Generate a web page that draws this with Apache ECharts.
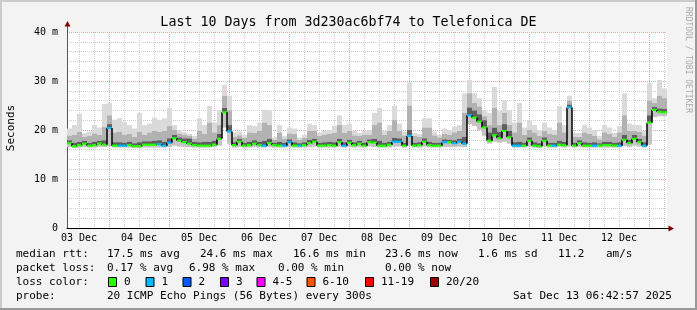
<!DOCTYPE html>
<html><head><meta charset="utf-8">
<script src="https://cdn.jsdelivr.net/npm/echarts@6/dist/echarts.min.js"></script>
<style>html,body{margin:0;padding:0;background:#f3f3f3}#c{width:697px;height:310px}</style>
</head><body><div id="c"></div>
<script>
// ---------- data ----------
const titleText = 'Last 10 Days from 3d230ac6bf74 to Telefonica DE';
const dayLabels = ['03 Dec','04 Dec','05 Dec','06 Dec','07 Dec','08 Dec','09 Dec','10 Dec','11 Dec','12 Dec'];
const yTickLabels = ['0','10 m','20 m','30 m','40 m'];
// 2-hour steps starting 03 Dec 07:12 (value axis in days since 03 Dec 00:00)
const startDay = 0.3;
const stepDay = 1/12;
const medianMs = [
 17.3,16.7,16.9,17.2,16.8,16.9,17.2,17.0,20.4,16.8,16.8,16.8,16.9,16.7,16.7,17.0,17.0,17.0,17.1,16.8,
 17.4,18.3,17.8,17.5,17.2,16.9,16.8,16.8,16.8,17.0,18.2,23.6,19.7,16.9,17.6,16.8,16.9,17.2,16.9,16.8,
 17.3,16.9,16.8,16.8,17.5,16.8,16.8,16.9,17.3,17.6,16.8,16.8,16.9,16.8,17.5,16.8,17.4,16.9,17.2,16.8,
 17.5,17.4,16.8,16.8,17.0,17.6,17.6,16.8,18.8,16.8,16.9,17.6,16.9,16.8,16.8,17.5,17.5,17.3,17.6,17.2,
 23.0,22.5,21.7,20.5,17.8,18.9,18.3,19.8,18.5,16.8,16.8,16.8,17.8,16.8,16.7,17.8,16.8,16.8,17.0,16.9,
 24.6,16.8,17.3,16.8,16.8,16.8,16.8,16.9,16.9,16.8,16.8,18.0,17.3,18.2,17.5,16.8,21.5,24.1,23.7,23.6];
const lostPings = [
 0,0,0,0,0,0,0,0,1,0,1,1,0,0,0,0,0,0,1,1,
 1,0,0,0,0,0,0,0,0,0,0,0,1,0,0,0,0,0,0,1,
 0,0,0,1,1,0,1,0,0,0,0,0,0,0,0,1,0,0,0,0,
 0,0,0,0,0,1,1,0,1,0,0,0,0,0,0,1,0,1,1,1,
 1,0,0,0,0,0,0,0,0,1,1,0,0,0,0,0,0,1,0,0,
 1,0,0,0,0,1,0,0,0,0,1,0,0,0,0,1,0,0,0,0];
const minMs = [
 16.5,16.3,16.4,16.5,16.4,16.4,16.5,16.5,16.6,16.4,16.4,16.4,16.4,16.3,16.3,16.4,16.4,16.4,16.4,16.4,
 16.5,16.8,16.6,16.5,16.5,16.4,16.4,16.4,16.4,16.5,16.8,20.5,17.2,16.4,16.5,16.4,16.4,16.5,16.4,16.4,
 16.5,16.4,16.4,16.4,16.5,16.4,16.4,16.4,16.5,16.6,16.4,16.4,16.4,16.4,16.5,16.4,16.5,16.4,16.5,16.4,
 16.6,16.5,16.4,16.4,16.4,16.6,16.6,16.4,16.8,16.4,16.4,16.6,16.4,16.4,16.4,16.5,16.5,16.5,16.6,16.5,
 21.2,20.8,20.0,18.8,17.2,17.6,17.4,17.6,17.2,16.4,16.4,16.4,16.6,16.4,16.3,16.6,16.4,16.4,16.5,16.4,
 16.6,16.4,16.5,16.4,16.4,16.4,16.4,16.4,16.4,16.4,16.4,16.7,16.5,16.8,16.6,16.4,17.0,22.6,22.8,22.8];
const darkTopMs = [
 17.9,17.4,17.6,17.8,17.4,17.6,17.8,17.9,21.2,17.5,17.5,17.4,17.6,17.3,17.5,17.7,17.7,17.8,17.9,17.6,
 18.3,19.0,18.5,18.3,18.3,17.6,17.5,17.6,17.6,17.8,19.2,24.5,21.0,17.5,18.2,17.4,17.6,17.9,17.6,17.8,
 18.2,17.4,17.6,17.4,18.1,17.5,17.3,17.5,18.0,18.2,17.4,17.5,17.6,17.5,18.2,17.5,18.0,17.5,17.8,17.4,
 18.1,18.2,17.8,17.4,17.6,18.4,18.3,17.4,20.0,17.4,17.5,18.3,17.6,17.4,17.4,18.1,18.0,17.9,18.2,18.6,
 24.6,24.0,23.2,22.0,19.5,20.5,19.6,21.2,19.8,17.5,17.6,17.4,18.5,17.5,17.3,18.5,17.4,17.4,17.8,17.6,
 25.2,17.4,17.9,17.5,17.4,17.5,17.3,17.6,17.6,17.4,17.5,19.0,18.0,19.0,18.2,17.5,23.0,24.7,24.4,24.3];
const midTopMs = [
 18.8,19.0,19.6,18.6,18.8,19.3,19.0,20.6,23.0,19.5,19.6,19.0,19.2,18.6,19.6,19.0,19.5,19.8,19.6,19.8,
 20.8,20.0,19.3,19.0,18.8,18.2,19.8,19.2,21.5,19.5,21.0,27.0,24.0,18.6,18.9,18.4,19.5,19.4,19.8,21.5,
 21.0,18.0,19.5,18.2,19.3,19.2,18.0,18.4,19.8,19.8,18.8,19.0,19.2,19.4,21.0,19.4,19.8,18.9,18.8,19.0,
 19.0,21.0,21.5,19.0,19.8,22.0,19.8,18.9,25.0,18.8,18.6,20.5,20.5,18.9,18.5,19.2,19.0,19.5,19.8,23.5,
 27.5,25.5,24.8,22.8,21.0,24.5,21.0,23.5,21.0,19.5,21.5,19.0,20.0,19.5,18.8,19.8,19.2,19.0,21.5,19.5,
 26.0,18.6,18.6,19.5,19.2,18.8,18.1,19.5,19.2,18.6,19.5,23.0,19.8,19.8,19.6,18.8,26.0,25.5,27.0,26.5];
const maxMs = [
 20.3,21.0,23.3,19.4,19.7,21.0,20.5,25.3,25.5,22.1,22.4,21.7,21.0,20.3,23.5,21.0,21.3,22.5,22.1,22.4,
 24.5,21.0,20.0,19.6,19.2,18.8,22.4,21.0,24.9,21.5,24.0,29.2,27.0,19.5,19.7,19.0,21.0,20.8,21.5,24.1,
 24.0,18.5,21.0,18.8,20.5,20.3,18.5,19.0,21.3,21.0,19.5,19.8,20.0,20.9,23.0,21.0,21.3,19.8,19.4,19.8,
 20.0,23.5,24.5,19.8,21.0,25.0,21.3,19.7,29.7,19.4,19.2,22.4,22.4,19.7,19.0,20.3,20.0,20.7,21.0,27.5,
 30.2,27.5,26.5,24.0,23.5,28.8,24.0,26.1,24.0,21.5,25.5,20.5,22.0,21.0,20.0,21.5,20.5,20.0,24.9,21.0,
 27.0,19.4,19.4,21.0,20.5,20.0,18.8,21.0,20.5,19.4,20.8,27.5,21.3,21.0,21.0,19.8,29.6,26.5,30.2,28.5];
const lossClassLabels = ['0','1','2','3','4-5','6-10','11-19','20/20'];
const lossClassColors = ['#26ff00','#00b8ff','#0059ff','#7e00ff','#ff00ff','#ff5500','#ff0000','#a10000'];
const lossClassUpper  = [0,1,2,3,5,10,19,20];
const statsRtt  = ['17.5 ms avg','24.6 ms max','16.6 ms min','23.6 ms now','1.6 ms sd','11.2','am/s'];
const statsLoss = ['0.17 % avg','6.98 % max','0.00 % min','0.00 % now'];
const probeText = '20 ICMP Echo Pings (56 Bytes) every 300s';
const dateText  = 'Sat Dec 13 06:42:57 2025';

// ---------- build ----------
const MONO = '"DejaVu Sans Mono", monospace';
function lossClass(n){ for (let k=0;k<lossClassUpper.length;k++) if (n<=lossClassUpper[k]) return k; return 7; }
const smokeData = medianMs.map((m,i)=>[startDay+i*stepDay, startDay+(i+1)*stepDay, minMs[i], m, darkTopMs[i], midTopMs[i], maxMs[i]]);
const medData = medianMs.map((m,i)=>[startDay+i*stepDay, startDay+(i+1)*stepDay, m, lostPings[i], i>0?medianMs[i-1]:m]);

function renderSmoke(params, api){
  const t0=api.value(0), t1=api.value(1);
  const x0=api.coord([t0,0])[0], x1=api.coord([t1,0])[0];
  const band=(a,b,c)=>{const ya=api.coord([t0,a])[1], yb=api.coord([t0,b])[1];
    return {type:'rect', shape:{x:x0,y:yb,width:x1-x0,height:Math.max(0,ya-yb)}, style:{fill:c}};};
  const lo=api.value(2), med=api.value(3), d=api.value(4), m=api.value(5), hi=api.value(6);
  return {type:'group', children:[band(m,hi,'#dadada'), band(d,m,'#b2b2b2'), band(med,d,'#5e5e5e'), band(lo,med,'#c4c4c4')]};
}
function renderMedian(params, api){
  const t0=api.value(0), t1=api.value(1), med=api.value(2), loss=api.value(3), prev=api.value(4);
  const p0=api.coord([t0,med]), p1=api.coord([t1,med]);
  const ch=[];
  if (prev!==med){ const pp=api.coord([t0,prev]);
    ch.push({type:'line', shape:{x1:p0[0],y1:pp[1],x2:p0[0],y2:p0[1]}, style:{stroke:'#000',lineWidth:1.5}}); }
  ch.push({type:'line', shape:{x1:p0[0],y1:p0[1],x2:p1[0],y2:p1[1]}, style:{stroke:lossClassColors[lossClass(loss)],lineWidth:2.2}});
  return {type:'group', children:ch};
}

const G = {left:67, top:32, width:600, height:196};
const txt=(x,y,t,extra)=>Object.assign({type:'text', x:x, y:y, silent:true, style:{text:t, font:'11px '+MONO, fill:'#000', align:'left', verticalAlign:'middle'}}, extra||{});
const graphics = [
  {type:'rect', shape:{x:0,y:0,width:697,height:2}, style:{fill:'#cbcbcb'}},
  {type:'rect', shape:{x:0,y:0,width:2,height:310}, style:{fill:'#cbcbcb'}},
  {type:'rect', shape:{x:0,y:308,width:697,height:2}, style:{fill:'#999'}},
  {type:'rect', shape:{x:695,y:0,width:2,height:310}, style:{fill:'#999'}},
  {type:'text', x:11, y:128, rotation:Math.PI/2, style:{text:'Seconds', font:'11px '+MONO, fill:'#000', align:'center', verticalAlign:'middle'}},
  {type:'text', x:688, y:60, rotation:-Math.PI/2, style:{text:'RRDTOOL / TOBI OETIKER', font:'8px '+MONO, fill:'#aaa', align:'center', verticalAlign:'middle'}},
  // axis arrows
  {type:'line', shape:{x1:67.5,y1:32,x2:67.5,y2:26}, style:{stroke:'#555',lineWidth:1}},
  {type:'polygon', shape:{points:[[64.5,26.5],[70.5,26.5],[67.5,21]]}, style:{fill:'#800000'}},
  {type:'line', shape:{x1:667,y1:228.5,x2:669,y2:228.5}, style:{stroke:'#000',lineWidth:1}},
  {type:'polygon', shape:{points:[[668.5,225.5],[668.5,231.5],[674,228.5]]}, style:{fill:'#800000'}},
  txt(16,254,'median rtt:'), txt(107,254,statsRtt[0]), txt(200,254,statsRtt[1]), txt(293,254,statsRtt[2]),
  txt(385,254,statsRtt[3]), txt(478,254,statsRtt[4]), txt(558,254,statsRtt[5]), txt(606,254,statsRtt[6]),
  txt(16,268,'packet loss:'), txt(107,268,statsLoss[0]), txt(189,268,statsLoss[1]), txt(278,268,statsLoss[2]), txt(385,268,statsLoss[3]),
  txt(16,282,'loss color:'),
  txt(16,296,'probe:'), txt(107,296,probeText), txt(513,296,dateText)
];
const boxX = [108,145.5,182.5,220,256.5,306.5,365,430];
lossClassLabels.forEach((lab,k)=>{
  graphics.push({type:'rect', shape:{x:boxX[k]+0.5,y:277.5,width:8,height:9}, style:{fill:lossClassColors[k], stroke:'#000', lineWidth:1}});
  graphics.push(txt(boxX[k]+16,282,lab));
});

const chart = echarts.init(document.getElementById('c'), null, {renderer:'canvas', width:697, height:310});
chart.setOption({
  backgroundColor:'#f3f3f3',
  animation:false,
  title:{text:titleText, left:'center', top:11, textStyle:{fontFamily:MONO, fontSize:13.3, fontWeight:'normal', color:'#000'}},
  grid:{left:G.left, top:G.top, width:G.width, height:G.height, show:true, backgroundColor:'#fff', borderWidth:0},
  xAxis:[{
    type:'value', min:startDay, max:startDay+10, minInterval:1, maxInterval:1, splitNumber:10, position:'bottom',
    axisLine:{show:true, onZero:false, lineStyle:{color:'#000', width:1}}, axisTick:{show:false}, axisLabel:{show:false},
    splitLine:{show:true, showMinLine:false, showMaxLine:false, lineStyle:{color:'#eba0a0', type:[1,1], width:1}},
    minorTick:{show:false, splitNumber:4},
    minorSplitLine:{show:true, lineStyle:{color:'#cfcfcf', type:[1,1], width:1}}
  },{
    type:'value', min:startDay-0.5, max:startDay+9.5, minInterval:1, maxInterval:1, splitNumber:10, position:'bottom',
    axisLine:{show:false, onZero:false}, axisTick:{show:false}, splitLine:{show:false},
    axisLabel:{show:true, showMinLabel:false, showMaxLabel:false, margin:5, color:'#000', fontFamily:MONO, fontSize:10,
      formatter:v=>dayLabels[Math.round(v)]||''}
  }],
  yAxis:{
    type:'value', min:0, max:40, interval:10,
    axisLine:{show:true, onZero:false, lineStyle:{color:'#555', width:1}}, axisTick:{show:false},
    axisLabel:{margin:9, color:'#000', fontFamily:MONO, fontSize:10, formatter:v=>yTickLabels[Math.round(v/10)]},
    splitLine:{show:true, showMinLine:false, lineStyle:{color:'#eba0a0', type:[1,1], width:1}},
    minorTick:{show:false, splitNumber:5},
    minorSplitLine:{show:true, lineStyle:{color:'#cfcfcf', type:[1,1], width:1}}
  },
  series:[
    {type:'custom', name:'smoke', xAxisIndex:0, renderItem:renderSmoke, data:smokeData, encode:{x:[0,1], y:[2,6]}, clip:true, silent:true, z:2},
    {type:'custom', name:'median', xAxisIndex:0, renderItem:renderMedian, data:medData, encode:{x:[0,1], y:[2,4]}, clip:true, silent:true, z:3}
  ],
  graphic:graphics
});
</script></body></html>
